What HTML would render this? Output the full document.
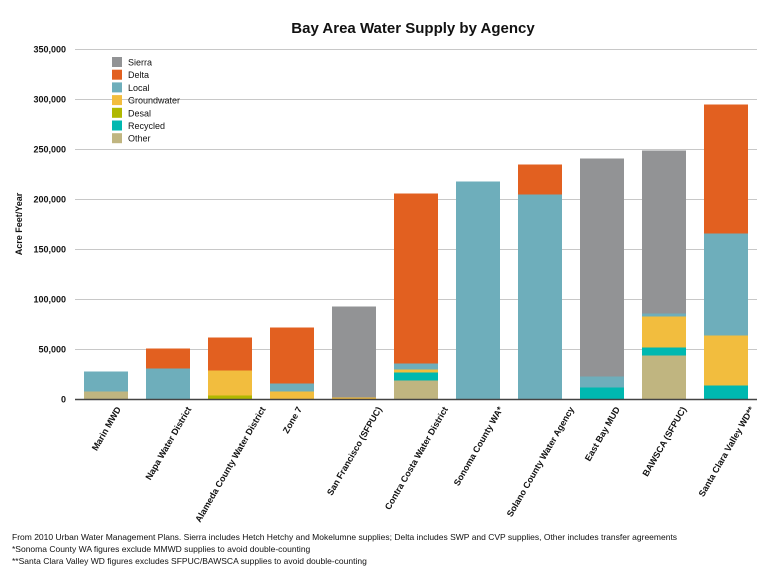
<!DOCTYPE html>
<html><head><meta charset="utf-8"><style>
body{margin:0;background:#fff;font-family:"Liberation Sans",sans-serif}
</style></head><body>
<svg id="chart" width="768" height="575" xmlns="http://www.w3.org/2000/svg">
<text x="413" y="33" text-anchor="middle" font-size="15" font-weight="bold" fill="#111">Bay Area Water Supply by Agency</text>
<text transform="translate(22,224) rotate(-90)" text-anchor="middle" font-size="9" font-weight="bold" fill="#111">Acre Feet/Year</text>
<g id="grid"></g><g id="bars"></g><g id="xlabels"></g><g id="legend"></g>
<line x1="75" x2="757" y1="399.5" y2="399.5" stroke="#444" stroke-width="1.5"/>
<g font-size="8.5" fill="#111">
<text x="12" y="540">From 2010 Urban Water Management Plans. Sierra includes Hetch Hetchy and Mokelumne supplies; Delta includes SWP and CVP supplies, Other includes transfer agreements</text>
<text x="12" y="552">*Sonoma County WA figures exclude MMWD supplies to avoid double-counting</text>
<text x="12" y="564">**Santa Clara Valley WD figures excludes SFPUC/BAWSCA supplies to avoid double-counting</text>
</g>
</svg>
<script>
const categories=["Marin MWD","Napa Water District","Alameda County Water District","Zone 7","San Francisco (SFPUC)","Contra Costa Water District","Sonoma County WA*","Solano County Water Agency","East Bay MUD","BAWSCA (SFPUC)","Santa Clara Valley WD**"];
const seriesNames=["Other","Recycled","Desal","Groundwater","Local","Delta","Sierra"];
const other=[8000,0,0,0,0,19000,0,0,0,44000,0];
const recycled=[0,0,0,0,0,8000,0,0,12000,8000,14000];
const desal=[0,0,4000,0,0,0,0,0,0,0,0];
const groundwater=[0,0,25000,8000,2000,3000,0,0,0,31000,50000];
const local=[20000,31000,0,8000,0,6000,218000,205000,11000,3000,102000];
const delta=[0,20000,33000,56000,0,170000,0,30000,0,0,129000];
const sierra=[0,0,0,0,91000,0,0,0,218000,163000,0];
const yTicks=[0,50000,100000,150000,200000,250000,300000,350000];
const colors={Other:"#c0b580",Recycled:"#00b8b0",Desal:"#b0b800",Groundwater:"#f2bd3e",Local:"#6eaebb",Delta:"#e26020",Sierra:"#929395"};
const series=[other,recycled,desal,groundwater,local,delta,sierra];
const NS="http://www.w3.org/2000/svg";
const x0=75,x1=757,yBase=399.5,yTop=49.5,yMax=350000;
const y=v=>yBase-(v/yMax)*(yBase-yTop);
const band=(x1-x0)/categories.length,bw=44;
const xb=i=>x0+i*band+(band-bw)/2;
function mk(t,a,p){const e=document.createElementNS(NS,t);for(const k in a)e.setAttribute(k,a[k]);p.appendChild(e);return e;}
const grid=document.getElementById('grid');
yTicks.forEach(t=>{
  if(t>0){const l=mk('line',{x1:x0,x2:x1,y1:y(t),y2:y(t),stroke:'#c8c8c8','stroke-width':1},grid);
  
  }
  const tx=mk('text',{x:66,y:y(t)+3,'text-anchor':'end','font-size':9,'font-weight':'bold',fill:'#111'},grid);
  tx.textContent=t.toLocaleString('en-US');
  
  
});
const bars=document.getElementById('bars');
const ang=60*Math.PI/180;
categories.forEach((c,i)=>{
  let acc=0;
  series.forEach((s,j)=>{
    const v=s[i]; if(!v)return;
    const r=mk('rect',{x:xb(i),y:y(acc+v),width:bw,height:y(acc)-y(acc+v),fill:colors[seriesNames[j]]},bars);
    
    
    acc+=v;
  });
  const cx=xb(i)+bw/2;
  const t=mk('text',{'text-anchor':'middle','font-size':9,'font-weight':'bold',fill:'#111'},document.getElementById('xlabels'));
  t.textContent=c;
  
  
  const L=t.getComputedTextLength();
  const cy=409+(L/2)*Math.sin(ang);
  t.setAttribute('transform',`translate(${cx+3},${cy}) rotate(-60)`);
});
const lg=document.getElementById('legend');
const order=["Sierra","Delta","Local","Groundwater","Desal","Recycled","Other"];
order.forEach((n,k)=>{
  const yy=57+k*12.7;
  const g=mk('g',{},lg);
  
  
  mk('rect',{x:112,y:yy,width:10,height:10,fill:colors[n]},g);
  const t=mk('text',{x:128,y:yy+8.5,'font-size':9,fill:'#111'},g);
  t.textContent=n;
});
</script>
</body></html>
